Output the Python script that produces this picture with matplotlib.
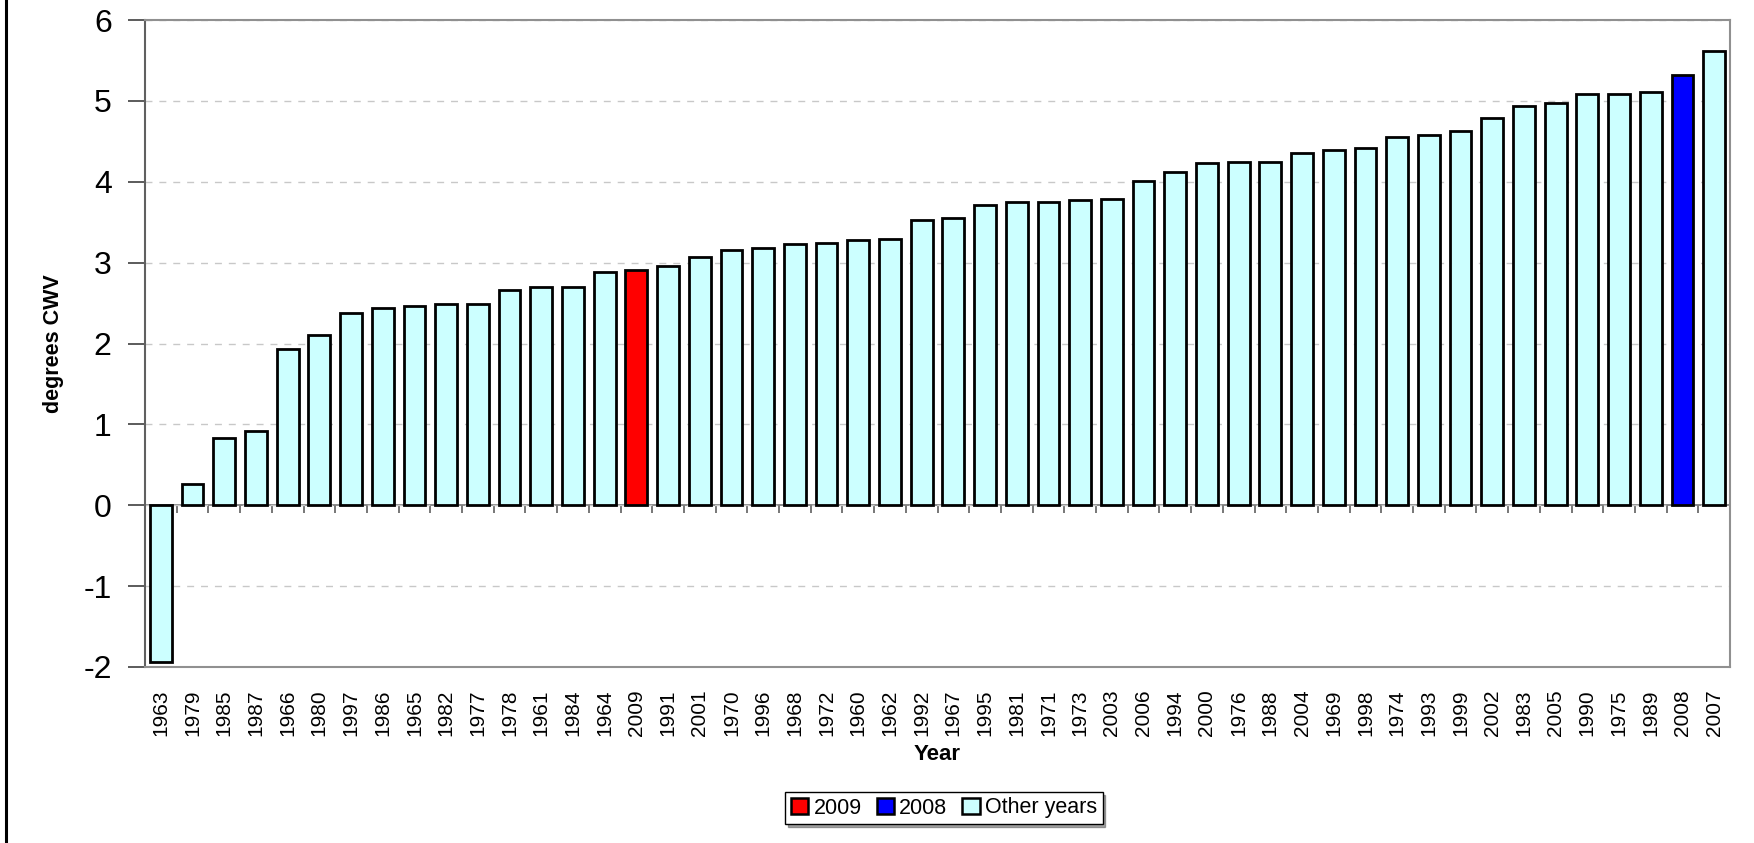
import matplotlib
matplotlib.use("Agg")
import matplotlib.pyplot as plt
from matplotlib.patches import Patch
from matplotlib.lines import Line2D
import numpy as np

plt.rcParams['font.family'] = ['Liberation Sans', 'DejaVu Sans']

years = ["1963", "1979", "1985", "1987", "1966", "1980", "1997", "1986", "1965", "1982",
         "1977", "1978", "1961", "1984", "1964", "2009", "1991", "2001", "1970", "1996",
         "1968", "1972", "1960", "1962", "1992", "1967", "1995", "1981", "1971", "1973",
         "2003", "2006", "1994", "2000", "1976", "1988", "2004", "1969", "1998", "1974",
         "1993", "1999", "2002", "1983", "2005", "1990", "1975", "1989", "2008", "2007"]
values = [-1.94, 0.26, 0.83, 0.92, 1.93, 2.10, 2.38, 2.44, 2.46, 2.49,
          2.49, 2.66, 2.70, 2.70, 2.88, 2.91, 2.96, 3.07, 3.15, 3.18,
          3.23, 3.24, 3.28, 3.29, 3.53, 3.55, 3.71, 3.75, 3.75, 3.77,
          3.79, 4.01, 4.12, 4.23, 4.24, 4.24, 4.35, 4.39, 4.42, 4.55,
          4.58, 4.63, 4.79, 4.94, 4.97, 5.08, 5.09, 5.11, 5.32, 5.62]
highlight = {"2009": "#FF0000", "2008": "#0000FF"}
other_color = "#CCFFFF"
legend_labels = ["2009", "2008", "Other years"]
yticks = [-2, -1, 0, 1, 2, 3, 4, 5, 6]

fig = plt.figure(figsize=(17.54, 8.43), dpi=100)
ax = fig.add_axes([145/1754, 1-667/843, (1730-145)/1754, (667-20)/843])

x = np.arange(len(years))
colors = [highlight.get(y, other_color) for y in years]
ax.bar(x, values, width=0.69, color=colors, edgecolor='black', linewidth=2.0, zorder=3)

ax.set_xlim(-0.5, len(years) - 0.5)
ax.set_ylim(-2, 6)
ax.set_yticks(yticks)
ax.set_yticklabels([str(v) for v in yticks], fontsize=23)
ax.tick_params(axis='y', direction='out', length=12, width=1.2, color='#404040', pad=12)
ax.set_xticks(x)
ax.set_xticklabels(years, rotation=90, fontsize=15)
ax.tick_params(axis='x', length=0, pad=16)

for s in ['top', 'right', 'bottom']:
    ax.spines[s].set_color('#909090')
    ax.spines[s].set_linewidth(1.5)
ax.spines['left'].set_color('#606060')
ax.spines['left'].set_linewidth(1.5)

ax.yaxis.grid(True, linestyle=(0, (5, 5)), color='#c8c8c8', linewidth=1.0, zorder=0)
ax.set_axisbelow(True)

# category axis at y = 0
sec = ax.secondary_xaxis(2 / 8)
sec.set_xticks(np.arange(len(years) + 1) - 0.5)
sec.set_xticklabels([])
sec.tick_params(axis='x', direction='out', length=6, width=1.2, color='#606060')
sec.spines['bottom'].set_color('#808080')
sec.spines['bottom'].set_linewidth(1.3)

ax.set_ylabel("degrees CWV", fontsize=15.5, fontweight='bold')
ax.yaxis.set_label_coords((64 - 145) / 1585, 0.50)
fig.text(937/1754, 1-754/843, "Year", fontsize=16, fontweight='bold', ha='center', va='center')

handles = [Patch(facecolor=highlight["2009"], edgecolor='black', linewidth=1.8),
           Patch(facecolor=highlight["2008"], edgecolor='black', linewidth=1.8),
           Patch(facecolor=other_color, edgecolor='black', linewidth=1.8)]
leg = fig.legend(handles, legend_labels, loc='center', bbox_to_anchor=(944/1754, 1-808/843),
                 ncol=3, fontsize=15.5, frameon=True, fancybox=False, shadow=True,
                 edgecolor='black', handlelength=0.8, handleheight=0.8, handletextpad=0.25,
                 columnspacing=0.7, borderpad=0.25, borderaxespad=0)
leg.get_frame().set_linewidth(1.0)

fig.add_artist(Line2D([6/1754, 6/1754], [0, 1], transform=fig.transFigure,
                      color='black', linewidth=2.2))

fig.savefig("out.png", dpi=100)
